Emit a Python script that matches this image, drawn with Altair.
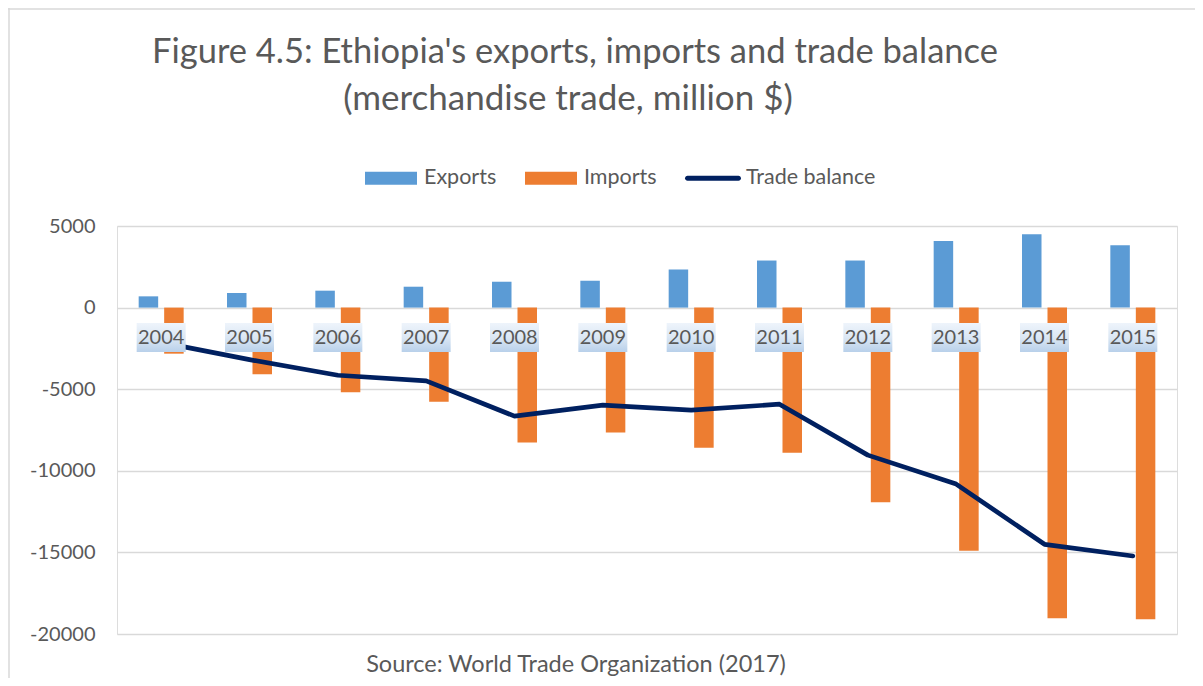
import altair as alt
import pandas as pd

# ---- data (million $) ----
years = ["2004", "2005", "2006", "2007", "2008", "2009",
         "2010", "2011", "2012", "2013", "2014", "2015"]
exports = [690, 896, 1037, 1280, 1585, 1646, 2335, 2884, 2884, 4085, 4494, 3823]
imports = [-2823, -4085, -5183, -5774, -8262, -7650, -8592, -8898,
           -11934, -14896, -19033, -19094]
trade_balance = [-2130, -3190, -4146, -4494, -6652, -5980, -6285, -5918,
                 -9040, -10814, -14504, -15220]

series_names = ["Exports", "Imports", "Trade balance"]
series_colors = ["#5B9BD5", "#ED7D31", "#002060"]
y_ticks = [5000, 0, -5000, -10000, -15000, -20000]

title_lines = ["Figure 4.5: Ethiopia's exports, imports and trade balance",
               "(merchandise trade, million $)"]
source_text = "Source: World Trade Organization (2017)"

FONT = "Lato"
GREY = "#595959"

bar_df = pd.DataFrame(
    [{"year": y, "series": "Exports", "value": v} for y, v in zip(years, exports)]
    + [{"year": y, "series": "Imports", "value": v} for y, v in zip(years, imports)]
)
line_df = pd.DataFrame({"year": years, "balance": trade_balance})
label_df = pd.DataFrame({"year": years})
legend_df = pd.DataFrame({"year": [years[0]] * 3, "series": series_names, "value": [0, 0, 0]})

rect_path = "M-1,-0.25L1,-0.25L1,0.25L-1,0.25Z"
line_path = ("M-0.98,-0.095L0.98,-0.095A0.095,0.095 0 0 1 0.98,0.095"
             "L-0.98,0.095A0.095,0.095 0 0 1 -0.98,-0.095Z")

x_enc = alt.X("year:N", sort=years, axis=None,
              scale=alt.Scale(domain=years, paddingInner=0, paddingOuter=0))
y_scale = alt.Scale(domain=[-20000, 5000], nice=False, zero=False)
y_axis = alt.Axis(values=y_ticks, grid=True, gridColor="#d9d9d9", gridWidth=1.3,
                  domain=False, ticks=False, labelFont=FONT, labelFontSize=20,
                  labelColor=GREY, labelPadding=22, title=None,
                  labelExpr="'' + datum.value")
color_scale = alt.Scale(domain=series_names, range=series_colors)
shape_scale = alt.Scale(domain=series_names, range=[rect_path, rect_path, line_path])

legend = alt.Legend(title=None, orient="none", legendX=248, legendY=-74,
                    direction="horizontal", symbolSize=2704, symbolOpacity=1,
                    symbolStrokeWidth=0, labelFont=FONT, labelFontSize=21.5,
                    labelColor=GREY, labelOffset=7, columnPadding=28, padding=0)

bars = alt.Chart(bar_df).mark_bar().encode(
    x=x_enc,
    xOffset=alt.XOffset("series:N", sort=["Exports", "Imports"],
                        scale=alt.Scale(domain=["Exports", "Imports"],
                                        paddingInner=0.235, paddingOuter=0.85)),
    y=alt.Y("value:Q", scale=y_scale, axis=y_axis),
    color=alt.Color("series:N", scale=color_scale, legend=legend),
)

line = alt.Chart(line_df).mark_line(strokeWidth=4.7, strokeJoin="round",
                                    strokeCap="round").encode(
    x=x_enc,
    y=alt.Y("balance:Q", scale=y_scale),
    color=alt.value("#002060"),
)

box_path = "M-1,-0.592L1,-0.592L1,0.592L-1,0.592Z"
label_boxes = alt.Chart(label_df).mark_point(
    shape=box_path, size=2401, filled=True, opacity=1, strokeWidth=0, yOffset=30,
    fill=alt.Gradient(gradient="linear", x1=0, y1=0, x2=0, y2=1,
                      stops=[alt.GradientStop(color="#eef4fb", offset=0),
                             alt.GradientStop(color="#dbe7f4", offset=0.5),
                             alt.GradientStop(color="#b8d0ea", offset=1)]),
).encode(x=x_enc, y=alt.datum(0))

label_text = alt.Chart(label_df).mark_text(
    font=FONT, fontSize=20, color=GREY, baseline="middle", dy=30.5
).encode(x=x_enc, y=alt.datum(0), text="year:N")

legend_layer = alt.Chart(legend_df).mark_point(filled=True, opacity=0).encode(
    x=x_enc,
    y=alt.Y("value:Q", scale=y_scale),
    color=alt.Color("series:N", scale=color_scale, legend=legend),
    shape=alt.Shape("series:N", scale=shape_scale, legend=legend),
)

t_df = pd.DataFrame({"t": [title_lines[0]]})
title1 = alt.Chart(t_df).mark_text(font=FONT, fontSize=34.5, color=GREY,
                                   align="center", baseline="alphabetic").encode(
    x=alt.value(458), y=alt.value(-163), text="t:N")
t2_df = pd.DataFrame({"t": [title_lines[1]]})
title2 = alt.Chart(t2_df).mark_text(font=FONT, fontSize=35, color=GREY,
                                    align="center", baseline="alphabetic").encode(
    x=alt.value(451), y=alt.value(-116), text="t:N")
s_df = pd.DataFrame({"t": [source_text]})
source = alt.Chart(s_df).mark_text(font=FONT, fontSize=23.5, color=GREY,
                                   align="center", baseline="middle").encode(
    x=alt.value(459), y=alt.value(439), text="t:N")

frame_top = alt.Chart(pd.DataFrame({"k": [0]})).mark_rule(
    color="#d9d9d9", strokeWidth=1.5).encode(
    x=alt.value(-109), x2=alt.value(1078), y=alt.value(-217))
frame_left = alt.Chart(pd.DataFrame({"k": [0]})).mark_rule(
    color="#d9d9d9", strokeWidth=1.5).encode(
    x=alt.value(-108), y=alt.value(-218), y2=alt.value(452))

chart = alt.layer(
    frame_top, frame_left, bars, line, label_boxes, label_text, legend_layer,
    title1, title2, source
).properties(
    width=1060, height=408,
    autosize=alt.AutoSizeParams(type="none"),
    padding={"left": 109, "top": 218, "right": 18, "bottom": 44},
).configure_view(strokeWidth=0).configure(background="white")

chart.save("out.html", embed_options={"renderer": "svg", "actions": False})
